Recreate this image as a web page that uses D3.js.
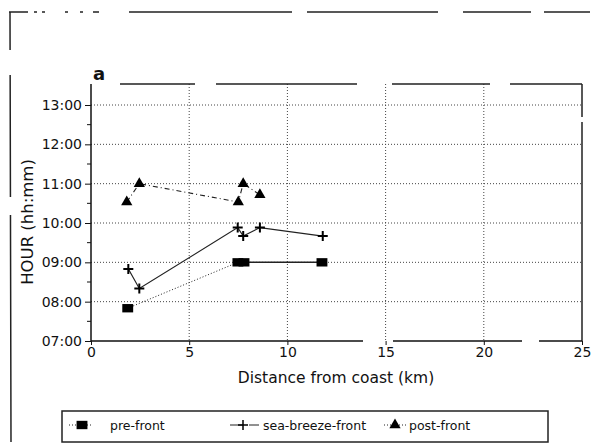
<!DOCTYPE html>
<html>
<head>
<script src="https://d3js.org/d3.v7.min.js"></script>
<style>
  body { margin: 0; background: #fff; }
  text { font-family: "DejaVu Sans", sans-serif; fill: #111; }
  .grid line { stroke: #444; stroke-width: 1; stroke-dasharray: 1 2; }
  .axis path, .axis line { stroke: #111; }
  .axis text { font-size: 14px; }
</style>
</head>
<body>
<svg width="604" height="444"></svg>
<script>
// distance from coast (km) and time of passage (hh:mm)
var preKm = [1.87, 7.48, 7.79, 11.76];
var preTime = ["07:50", "09:00", "09:00", "09:00"];
var preSeg = ["dot", "solid", "solid"];

var seaKm = [1.9, 2.46, 7.47, 7.75, 8.6, 11.8];
var seaTime = ["08:50", "08:20", "09:53", "09:40", "09:53", "09:40"];

var postKm = [1.82, 2.46, 7.5, 7.75, 8.6];
var postTime = ["10:32", "11:00", "10:32", "11:00", "10:43"];

var xTicks = [0, 5, 10, 15, 20, 25];
var yTicks = ["07:00", "08:00", "09:00", "10:00", "11:00", "12:00", "13:00"];

function hrs(s) { var p = s.split(":"); return +p[0] + p[1] / 60; }
function pts(km, t) { return km.map(function(d, i) { return {x: d, y: hrs(t[i])}; }); }

var svg = d3.select("svg");
var pLeft = 91, pRight = 582, pTop = 84, pBottom = 341;

var x = d3.scaleLinear().domain([0, 25]).range([pLeft, pRight]);
var y = d3.scaleLinear().domain([7, 13]).range([pBottom, 105]);

// outer frame, broken like the scan
svg.append("line").attr("x1", 9).attr("y1", 12).attr("x2", 604).attr("y2", 12)
  .attr("stroke", "#222").attr("stroke-width", 1.5)
  .attr("stroke-dasharray", "19 6 3 5 3 20 3 12 3 10 6 30 163 15 131 25 68 13 46");
svg.append("line").attr("x1", 10).attr("y1", 12).attr("x2", 11).attr("y2", 442)
  .attr("stroke", "#222").attr("stroke-width", 1.5)
  .attr("stroke-dasharray", "38 25 122 18 230");

// gridlines
var grid = svg.append("g").attr("class", "grid");
grid.selectAll(".gx").data(xTicks.slice(1, 5)).enter().append("line")
  .attr("x1", d => x(d)).attr("x2", d => x(d)).attr("y1", pTop).attr("y2", pBottom);
grid.selectAll(".gy").data(yTicks.slice(1)).enter().append("line")
  .attr("x1", pLeft).attr("x2", pRight).attr("y1", d => y(hrs(d))).attr("y2", d => y(hrs(d)));

// plot frame top and right
svg.append("line").attr("x1", pLeft).attr("x2", pRight).attr("y1", pTop).attr("y2", pTop)
  .attr("stroke", "#222").attr("stroke-width", 1.5).attr("stroke-dasharray", "0 29 75 21 141 35 98 20 72");
svg.append("line").attr("x1", pRight).attr("x2", pRight).attr("y1", pTop).attr("y2", pBottom)
  .attr("stroke", "#222").attr("stroke-width", 1.5).attr("stroke-dasharray", "33 5 300");

// axes
svg.append("g").attr("class", "axis")
  .attr("transform", "translate(0," + pBottom + ")")
  .call(d3.axisBottom(x).tickValues(xTicks).tickSize(4).tickPadding(2).tickFormat(d3.format("d")))
  .call(g => g.select(".domain").attr("stroke-width", 1.5)
    .attr("d", "M" + pLeft + ",0H" + pRight).attr("stroke-dasharray", "272 30 129 17 43"));

svg.append("g").attr("class", "axis")
  .attr("transform", "translate(" + pLeft + ",0)")
  .call(d3.axisLeft(y).tickValues(yTicks.map(hrs)).tickSize(6).tickPadding(3)
    .tickFormat(d => yTicks[Math.round(d - 7)]))
  .call(g => g.select(".domain").attr("stroke-width", 1.5).attr("d", "M0," + pTop + "V" + pBottom));

// half hour minor ticks
svg.append("g").selectAll("line").data(yTicks.slice(0, 6)).enter().append("line")
  .attr("x1", pLeft - 4).attr("x2", pLeft).attr("y1", d => y(hrs(d) + 0.5)).attr("y2", d => y(hrs(d) + 0.5))
  .attr("stroke", "#111");

// titles
svg.append("text").attr("x", 99).attr("y", 80).attr("text-anchor", "middle")
  .style("font-size", "18px").style("font-weight", "bold").text("a");
svg.append("text").attr("x", 336).attr("y", 383).attr("text-anchor", "middle")
  .style("font-size", "15.5px").text("Distance from coast (km)");
svg.append("text").attr("transform", "translate(33,222) rotate(-90)").attr("text-anchor", "middle")
  .style("font-size", "16.5px").text("HOUR (hh:mm)");

// series lines
var line = d3.line().x(d => x(d.x)).y(d => y(d.y));
var pre = pts(preKm, preTime), sea = pts(seaKm, seaTime), post = pts(postKm, postTime);

pre.slice(1).forEach(function(p, i) {
  svg.append("path").attr("d", line([pre[i], p])).attr("fill", "none")
    .attr("stroke", "#222")
    .attr("stroke-width", preSeg[i] === "dot" ? 1 : 1.5)
    .attr("stroke-dasharray", preSeg[i] === "dot" ? "1 2" : null);
});
svg.append("path").attr("d", line(sea)).attr("fill", "none").attr("stroke", "#222").attr("stroke-width", 1.1);
svg.append("path").attr("d", line(post)).attr("fill", "none").attr("stroke", "#222")
  .attr("stroke-width", 1.1).attr("stroke-dasharray", "5 3 1 3");

// markers
var sym = {
  sq: d3.symbol().type(d3.symbolSquare).size(70),
  tri: d3.symbol().type(d3.symbolTriangle).size(55),
  plus: "M-5,0H5M0,-5V5"
};
svg.append("g").selectAll("path").data(pre).enter().append("path")
  .attr("transform", d => "translate(" + x(d.x) + "," + y(d.y) + ") scale(1.3,1)")
  .attr("d", sym.sq()).attr("fill", "#000");
svg.append("g").selectAll("path").data(sea).enter().append("path")
  .attr("transform", d => "translate(" + x(d.x) + "," + y(d.y) + ")")
  .attr("d", sym.plus).attr("stroke", "#000").attr("stroke-width", 2).attr("fill", "none");
svg.append("g").selectAll("path").data(post).enter().append("path")
  .attr("transform", d => "translate(" + x(d.x) + "," + y(d.y) + ")")
  .attr("d", sym.tri()).attr("fill", "#000");

// legend
var lg = svg.append("g");
lg.append("rect").attr("x", 62).attr("y", 411).attr("width", 486).attr("height", 31)
  .attr("fill", "none").attr("stroke", "#222").attr("stroke-width", 1.5);
var ly = 425;
lg.append("line").attr("x1", 69).attr("x2", 91).attr("y1", ly).attr("y2", ly)
  .attr("stroke", "#222").attr("stroke-dasharray", "1 2");
lg.append("path").attr("transform", "translate(82," + ly + ") scale(1.3,1)").attr("d", sym.sq()).attr("fill", "#000");
lg.append("text").attr("x", 110).attr("y", ly + 5).style("font-size", "12.5px").text("pre-front");

lg.append("line").attr("x1", 230).attr("x2", 259).attr("y1", ly).attr("y2", ly)
  .attr("stroke", "#222").attr("stroke-dasharray", "13 6 10");
lg.append("path").attr("transform", "translate(243," + ly + ")").attr("d", sym.plus)
  .attr("stroke", "#000").attr("stroke-width", 1.5);
lg.append("text").attr("x", 263).attr("y", ly + 5).style("font-size", "12.5px").text("sea-breeze-front");

lg.append("line").attr("x1", 384).attr("x2", 406).attr("y1", ly).attr("y2", ly)
  .attr("stroke", "#222").attr("stroke-dasharray", "1 2");
lg.append("path").attr("transform", "translate(395," + ly + ")").attr("d", sym.tri()).attr("fill", "#000");
lg.append("text").attr("x", 409).attr("y", ly + 5).style("font-size", "12.5px").text("post-front");
</script>
</body>
</html>
